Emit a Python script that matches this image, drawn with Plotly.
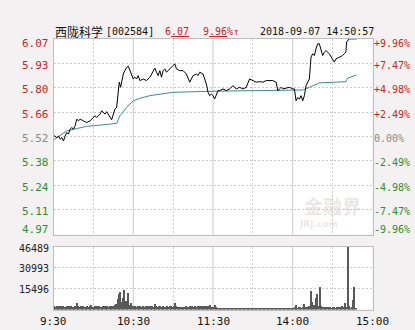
import plotly.graph_objects as go

# ---------------- data ----------------
prev_close = 5.52
pct_levels = [9.96, 7.47, 4.98, 2.49, 0.00, -2.49, -4.98, -7.47, -9.96]
price_labels = ["6.07", "5.93", "5.80", "5.66", "5.52", "5.38", "5.24", "5.11", "4.97"]
pct_labels = ["+9.96%", "+7.47%", "+4.98%", "+2.49%", "0.00%", "-2.49%", "-4.98%", "-7.47%", "-9.96%"]

# minutes since 9:30 (trading minutes, lunch removed)
price_min = [
    0, 2.5, 3.75, 5, 6.25, 7.5, 8.75, 10, 11.25, 12.5,
    13.75, 15, 16.25, 17.5, 18.75, 20, 22.5, 25, 27.5, 30,
    31.25, 32.5, 35, 36.25, 37.5, 38.75, 40, 42.5, 43.75, 45,
    46.25, 47.5, 48.75, 49.5, 50.5, 51.5, 52.5, 53.75, 55, 56.25,
    57.5, 58.75, 60, 61.25, 62.5, 63.75,
    65, 67.5, 70, 72.5, 75, 76.25, 77.5, 78.75, 80, 81.25,
    82.5, 83.75, 85, 87.5, 88.75, 90, 91.25, 92.5, 95, 97.5,
    100, 102.5, 103.75, 105, 107.5, 108.75, 110, 112.5, 113.75, 115,
    116.25, 117.5, 118.75, 120, 121.25, 122.5, 123.75, 125, 127.5, 130,
    132.5, 135, 137.5, 140, 142.5, 145, 147.5, 150, 152.5, 155,
    157.5, 160,
    162.5, 165, 167.5, 168.75, 170, 171.25, 172.5, 175, 177.5, 180,
    181.25, 182.5, 183.75, 185, 186.25, 187.5, 188.75, 190, 191.25, 192.5,
    193.25, 193.75, 195, 196.25, 197.5, 198.75, 200, 201.25, 202.5, 203.75,
    205, 207.5, 210, 211.25, 212.5, 215, 217.5, 218.75, 220, 220.5,
    221.25, 222.5, 228,
]
price_val = [
    5.527, 5.514, 5.523, 5.505, 5.514, 5.495, 5.523, 5.543, 5.533, 5.561,
    5.571, 5.561, 5.580, 5.618, 5.608, 5.618, 5.608, 5.599, 5.608, 5.627,
    5.637, 5.627, 5.646, 5.665, 5.656, 5.646, 5.660, 5.627, 5.614, 5.646,
    5.674, 5.684, 5.769, 5.826, 5.797, 5.844, 5.872, 5.891, 5.910, 5.916,
    5.891, 5.863, 5.844, 5.854, 5.844, 5.863,
    5.835, 5.844, 5.835, 5.854, 5.891, 5.905, 5.882, 5.863, 5.891, 5.854,
    5.891, 5.901, 5.882, 5.901, 5.910, 5.920, 5.929, 5.901, 5.891, 5.891,
    5.872, 5.826, 5.844, 5.863, 5.872, 5.863, 5.882, 5.872, 5.844, 5.816,
    5.769, 5.750, 5.759, 5.750, 5.731, 5.750, 5.778, 5.778, 5.788, 5.778,
    5.788, 5.806, 5.788, 5.797, 5.788, 5.797, 5.844, 5.835, 5.826, 5.829,
    5.826, 5.835,
    5.835, 5.835, 5.826, 5.778, 5.788, 5.797, 5.788, 5.791, 5.797, 5.788,
    5.788, 5.721, 5.740, 5.731, 5.750, 5.721, 5.750, 5.806, 5.826, 5.844,
    5.920, 5.967, 5.986, 5.976, 6.014, 6.042, 6.042, 6.014, 5.976, 5.995,
    6.004, 5.986, 5.957, 5.939, 5.957, 5.967, 5.976, 5.986, 5.995, 6.052,
    6.061, 6.070, 6.070,
]

avg_min = [0, 10, 17.5, 25, 35, 45, 47.5, 50, 55, 60, 65, 72.5, 90, 120,
           162.5, 187.5, 192.5, 200, 212.5, 220, 221.25, 228]
avg_val = [5.500, 5.552, 5.565, 5.577, 5.584, 5.590, 5.594, 5.637, 5.684, 5.721,
           5.735, 5.750, 5.769, 5.775, 5.782, 5.782, 5.797, 5.822, 5.826, 5.829,
           5.848, 5.867]

volume = [
    3200, 2400, 2800, 2000, 2600, 3000, 2200, 2900, 2500, 1800,
    2700, 3100, 2300, 2600, 2000, 2400, 2900, 5200, 2600, 2200,
    2800, 2500, 3300, 2000, 2400, 2700, 2100, 2900, 3400, 2500,
    2200, 2600, 3000, 2300, 2800, 2500, 2000, 2700, 3100, 2400,
    2600, 2200, 2900, 2500, 3200, 2800, 3600, 4500, 8000, 11800,
    13000, 6000, 9000, 15000, 6500, 4000, 12300, 3500, 5000, 3000,
    2600, 3100, 2400, 2800, 2200, 3000, 2500, 2700, 2100, 2900,
    2400, 2600, 3200, 2300, 2700, 2500, 4400, 2800, 2200, 2600,
    3000, 2400, 2700, 2100, 2500, 2900, 2300, 2600, 3100, 2400,
    2800, 5000, 3300, 2200, 2000, 2100, 2300, 1900, 2400, 2600,
    2200, 2500, 2900, 2300, 2700, 2100, 3200, 2500, 2800, 2400,
    3100, 2600, 2200, 2900, 3300, 2500, 2800, 3600, 2300, 2000,
    2100, 4000, 2500, 1700, 1500, 1300, 1600, 1200, 1400, 1300,
    1500, 1200, 1300, 1600, 1400, 1200, 1300, 1500, 1700, 1300,
    1200, 1400, 1600, 1300, 1200, 1500, 1300, 1400, 1200, 1300,
    1500, 1300, 1400, 1200, 1600, 1300, 1500, 1200, 1400, 1300,
    1500, 1300, 1200, 1400, 1600, 1300, 1200, 1500, 1300, 1400,
    1200, 1300, 1500, 1400, 1200, 1300, 1600, 1300, 1500, 1400,
    1800, 2200, 3500, 1800, 2000, 2400, 1700, 2200, 4500, 2000,
    2500, 2200, 3000, 14000, 6000, 4000, 3500, 9000, 11500, 3000,
    17000, 3000, 2500, 2000, 1800, 2200, 1900, 2500, 2000, 1700,
    2300, 2000, 1800, 2200, 2500, 1900, 2100, 3000, 2000, 5250,
    2500, 46489, 3000, 1500, 2500, 7700, 17000, 1500,
]
vol_min = list(range(len(volume)))
vol_labels = ["46489", "30993", "15496"]
vol_ticks = [46489, 30993, 15496]

time_labels = ["9:30", "10:30", "11:30", "14:00", "15:00"]
time_pos = [0, 60, 120, 180, 240]
grid_dashed = [30, 90, 150, 210]
grid_solid = [60, 120, 180]

title_name = "西陇科学"
title_code = "[002584]"
last_price = "6<u>.07</u>"
last_pct = "9<u>.96</u>%↑"
stamp = "2018-09-07 14:50:57"

# ---------------- layout constants ----------------
W, H = 415, 330
X0, X1 = 53.5 / W, 372.5 / W
PY0, PY1 = 1 - 234.5 / H, 1 - 38.5 / H
VY0, VY1 = 1 - 309.5 / H, 1 - 246.5 / H
RED, GREEN, GREY = "#cc1f1f", "#2f8f2f", "#8a8a8a"
MONO = "DejaVu Sans Mono"
CJK = "Noto Sans CJK SC"
GRIDC = "#c9c9c9"
BORDER = "#bdbdbd"
FS = 10

price_ticks = [prev_close * (1 + p / 100) for p in pct_levels]
lo, hi = price_ticks[-1], price_ticks[0]
pad = (hi - lo) * 0.002

fig = go.Figure()
fig.add_trace(go.Scatter(x=avg_min, y=avg_val, mode="lines",
                         line=dict(color="#3a8f88", width=1), xaxis="x", yaxis="y",
                         hoverinfo="skip"))
fig.add_trace(go.Scatter(x=price_min, y=price_val, mode="lines",
                         line=dict(color="#000000", width=1), xaxis="x", yaxis="y",
                         hoverinfo="skip"))
fig.add_trace(go.Bar(x=vol_min, y=volume, marker=dict(color="#595959", line=dict(width=0)),
                     width=0.75, xaxis="x2", yaxis="y2", hoverinfo="skip"))

xcommon = dict(range=[0, 240], tickvals=grid_dashed, showticklabels=False, ticks="",
               showgrid=True, gridcolor=GRIDC, griddash="2px,2px", gridwidth=1,
               zeroline=False, showline=True, mirror=True, linecolor=BORDER, linewidth=1,
               fixedrange=True)
fig.update_layout(
    width=W, height=H, margin=dict(l=0, r=0, t=0, b=0),
    paper_bgcolor="#f3f1f1", plot_bgcolor="#ffffff", showlegend=False,
    bargap=0,
    xaxis=dict(domain=[X0, X1], anchor="y", **xcommon),
    xaxis2=dict(domain=[X0, X1], anchor="y2", **xcommon),
    yaxis=dict(domain=[PY0, PY1], range=[lo - pad, hi + pad], tickvals=price_ticks[1:-1],
               showticklabels=False, ticks="", showgrid=True, gridcolor=GRIDC,
               griddash="2px,2px", zeroline=False, showline=True, mirror=True,
               linecolor=BORDER, fixedrange=True),
    yaxis2=dict(domain=[VY0, VY1], range=[0, vol_ticks[0]], tickvals=vol_ticks[1:],
                showticklabels=False, ticks="", showgrid=True, gridcolor=GRIDC,
                griddash="2px,2px", zeroline=False, showline=True, mirror=True,
                linecolor=BORDER, fixedrange=True),
)

# solid vertical separators
for m in grid_solid:
    for xr, yr in (("x", "y domain"), ("x2", "y2 domain")):
        fig.add_shape(type="line", xref=xr, yref=yr, x0=m, x1=m, y0=0, y1=1,
                      line=dict(color=GRIDC, width=1), layer="below")

ann = []
n = len(price_ticks)
for i, (v, lab, plab, p) in enumerate(zip(price_ticks, price_labels, pct_labels, pct_levels)):
    col = RED if p > 0 else (GREEN if p < 0 else GREY)
    ys = -5 if i == 0 else (5 if i == n - 1 else -2)
    ann.append(dict(x=X0, y=v, xref="paper", yref="y", text=lab, showarrow=False,
                    xanchor="right", yanchor="middle", xshift=-3, yshift=ys,
                    font=dict(family=MONO, size=FS + 1, color=col)))
    ann.append(dict(x=X1, y=v, xref="paper", yref="y", text=plab, showarrow=False,
                    xanchor="left", yanchor="middle", xshift=-1, yshift=ys,
                    font=dict(family=MONO, size=FS, color=col)))
for i, (v, lab) in enumerate(zip(vol_ticks, vol_labels)):
    ann.append(dict(x=X0, y=v, xref="paper", yref="y2", text=lab, showarrow=False,
                    xanchor="right", yanchor="middle", xshift=-3, yshift=-2 if i == 0 else -1,
                    font=dict(family=MONO, size=FS, color="#222222")))
for t, lab in zip(time_pos, time_labels):
    ann.append(dict(x=t, y=VY0, xref="x2", yref="paper", text=lab, showarrow=False,
                    xanchor="center", yanchor="top", yshift=-3,
                    font=dict(family=MONO, size=FS + 1, color="#111111")))

TY = 1 - 31 / H
ann.append(dict(x=53 / W, y=TY, xref="paper", yref="paper", text=title_name, showarrow=False,
                xanchor="left", yanchor="middle", font=dict(family=CJK, size=12, color="#111111")))
ann.append(dict(x=104 / W, y=TY, xref="paper", yref="paper", text=title_code, showarrow=False,
                xanchor="left", yanchor="middle", font=dict(family=MONO, size=FS, color="#111111")))
ann.append(dict(x=163 / W, y=TY, xref="paper", yref="paper", text=last_price, showarrow=False,
                xanchor="left", yanchor="middle", font=dict(family=MONO, size=FS, color=RED)))
ann.append(dict(x=201 / W, y=TY, xref="paper", yref="paper", text=last_pct, showarrow=False,
                xanchor="left", yanchor="middle", font=dict(family=MONO, size=FS, color=RED)))
ann.append(dict(x=376 / W, y=TY, xref="paper", yref="paper", text=stamp, showarrow=False,
                xanchor="right", yanchor="middle", font=dict(family=MONO, size=FS, color="#111111")))
# watermark
ann.append(dict(x=332 / W, y=1 - 205 / H, xref="paper", yref="paper", text="<b>金融界</b>",
                showarrow=False, xanchor="center", yanchor="middle",
                font=dict(family=CJK, size=19, color="rgba(190,170,170,0.3)")))
ann.append(dict(x=318 / W, y=1 - 224 / H, xref="paper", yref="paper", text="<b>JRJ.com</b>",
                showarrow=False, xanchor="center", yanchor="middle",
                font=dict(family="DejaVu Sans", size=9, color="rgba(200,170,170,0.3)")))
fig.update_layout(annotations=ann)

fig.write_html("out.html")
